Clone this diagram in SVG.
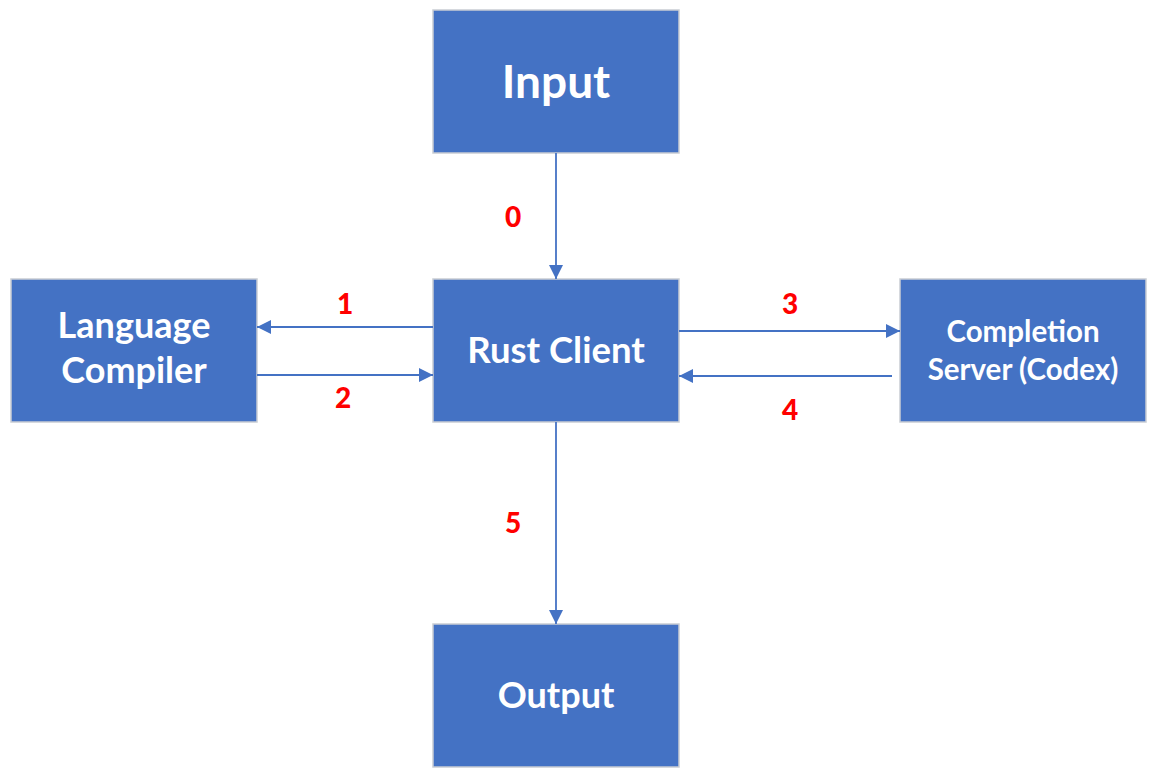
<svg xmlns="http://www.w3.org/2000/svg" width="1156" height="779" viewBox="0 0 1156 779">
  <style>
    .box { fill: #4472C4; stroke: #C9CDD3; stroke-width: 1.5; }
    .lbl { fill: #FFFFFF; font-family: Lato, "Liberation Sans", sans-serif; font-weight: bold; text-anchor: middle; }
    .num { fill: #FF0000; font-family: Lato, "Liberation Sans", sans-serif; font-weight: 900; font-size: 28px; text-anchor: middle; }
    .conn { stroke: #4472C4; stroke-width: 1.8; fill: none; marker-end: url(#arrow); }
  </style>
  <defs>
    <marker id="arrow" viewBox="0 0 14 14" refX="14" refY="7" markerWidth="14" markerHeight="14" markerUnits="userSpaceOnUse" orient="auto">
      <path d="M0,0 L14,7 L0,14 Z" fill="#4472C4"/>
    </marker>
  </defs>
  <rect width="1156" height="779" fill="#FFFFFF"/>

  <g id="input">
    <rect class="box" x="433" y="10" width="246" height="143"/>
    <text class="lbl" x="556" y="98" font-size="46">Input</text>
  </g>
  <g id="rust-client">
    <rect class="box" x="433" y="279" width="246" height="143"/>
    <text class="lbl" x="556" y="363" font-size="36.5">Rust Client</text>
  </g>
  <g id="language-compiler">
    <rect class="box" x="11" y="279" width="246" height="143"/>
    <text class="lbl" x="134" y="338" font-size="36">Language</text>
    <text class="lbl" x="134" y="383" font-size="36">Compiler</text>
  </g>
  <g id="completion-server">
    <rect class="box" x="900" y="279" width="246" height="143"/>
    <text class="lbl" x="1023" y="342" font-size="29.5">Completion</text>
    <text class="lbl" x="1023" y="380" font-size="29.5">Server (Codex)</text>
  </g>
  <g id="output">
    <rect class="box" x="433" y="624" width="246" height="143"/>
    <text class="lbl" x="556" y="708" font-size="36">Output</text>
  </g>

  <g id="connectors">
    <line class="conn" x1="556" y1="153" x2="556" y2="279"/>
    <line class="conn" x1="433" y1="327" x2="257" y2="327"/>
    <line class="conn" x1="257" y1="375" x2="433" y2="375"/>
    <line class="conn" x1="679" y1="331" x2="900" y2="331"/>
    <line class="conn" x1="892" y1="376" x2="679" y2="376"/>
    <line class="conn" x1="556" y1="422" x2="556" y2="624"/>
    <text class="num" x="513" y="227">0</text>
    <text class="num" x="345" y="314">1</text>
    <text class="num" x="343" y="408">2</text>
    <text class="num" x="790" y="314">3</text>
    <text class="num" x="790" y="420">4</text>
    <text class="num" x="513" y="533">5</text>
  </g>
</svg>
